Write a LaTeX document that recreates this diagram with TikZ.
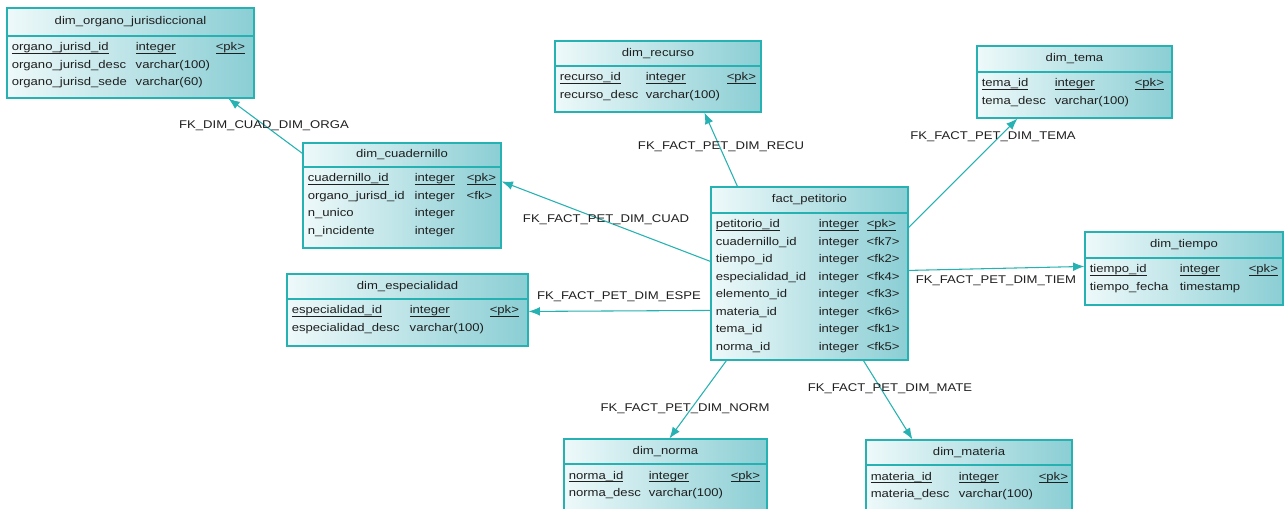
\documentclass[tikz,border=0pt]{standalone}
\usepackage{fontspec}
\newfontfamily\erfont[FakeStretch=1.17]{Liberation Sans}
\usetikzlibrary{fit,calc,arrows.meta}
\newlength\erpx \setlength\erpx{0.75pt}
\definecolor{tborder}{RGB}{38,178,178}
\definecolor{tlight}{RGB}{238,249,250}
\definecolor{tdark}{RGB}{138,206,212}
\newcommand\erul[1]{\leavevmode\setbox0\hbox{#1}\rlap{\rule[-1.9pt]{\wd0}{0.55pt}}\box0}
\newcommand\ertable[9]{%
  \node[tblbox, fit={(#2,#3) (#4,#5)}] (#1) {};
  \draw[tblrule] (#2,#6) -- (#4,#6);
  \node[tbltitle] (#1-t) at ({(#2+#4)/2},{(#3+#6)/2}) {#7};
  \node[tblrows, anchor=base west] (#1-r) at ({#2+4.5},{#6+15}) {\setlength\tabcolsep{0pt}\begin{tabular}[t]{#8}#9\end{tabular}};
}
\tikzset{
  erfnt/.style={font=\erfont\fontsize{8.4}{13.1}\selectfont, text=black!88},
  tblbox/.style={draw=tborder, line width=0.85pt, inner sep=0pt, left color=tlight, right color=tdark},
  tblrule/.style={draw=tborder, line width=0.85pt},
  tbltitle/.style={erfnt, inner sep=0pt},
  tblrows/.style={erfnt, inner sep=0pt},
  fklabel/.style={erfnt, inner sep=0pt},
  fk/.style={draw=tborder, line width=0.8pt, -{Latex[length=8.5pt,width=6.5pt]}},
}
\begin{document}
\begin{tikzpicture}[x=0.75pt,y=-0.75pt]
\useasboundingbox (0,0) rectangle (1284,509);
\fill[white] (0,0) rectangle (1284,509);

\ertable{org}{7}{8}{254}{98}{36}{dim\_organo\_jurisdiccional}{p{124\erpx}p{80\erpx}l}{%
 \erul{organo\_jurisd\_id} & \erul{integer} & \erul{<pk>}\\
 organo\_jurisd\_desc & varchar(100) & \\
 organo\_jurisd\_sede & varchar(60) & }

\ertable{cuad}{303}{143}{501}{248}{167}{dim\_cuadernillo}{p{107\erpx}p{52\erpx}l}{%
 \erul{cuadernillo\_id} & \erul{integer} & \erul{<pk>}\\
 organo\_jurisd\_id & integer & <fk>\\
 n\_unico & integer & \\
 n\_incidente & integer & }

\ertable{espe}{287}{274}{528}{346}{299}{dim\_especialidad}{p{118\erpx}p{80\erpx}l}{%
 \erul{especialidad\_id} & \erul{integer} & \erul{<pk>}\\
 especialidad\_desc & varchar(100) & }

\ertable{fact}{711}{187}{908}{360}{213}{fact\_petitorio}{p{103\erpx}p{48\erpx}l}{%
 \erul{petitorio\_id} & \erul{integer} & \erul{<pk>}\\
 cuadernillo\_id & integer & <fk7>\\
 tiempo\_id & integer & <fk2>\\
 especialidad\_id & integer & <fk4>\\
 elemento\_id & integer & <fk3>\\
 materia\_id & integer & <fk6>\\
 tema\_id & integer & <fk1>\\
 norma\_id & integer & <fk5>}

\ertable{rec}{555}{41}{761}{112}{66}{dim\_recurso}{p{86\erpx}p{81\erpx}l}{%
 \erul{recurso\_id} & \erul{integer} & \erul{<pk>}\\
 recurso\_desc & varchar(100) & }

\ertable{tema}{977}{46}{1172}{118}{72}{dim\_tema}{p{73\erpx}p{80\erpx}l}{%
 \erul{tema\_id} & \erul{integer} & \erul{<pk>}\\
 tema\_desc & varchar(100) & }

\ertable{tiem}{1085}{232}{1283}{305}{258}{dim\_tiempo}{p{90\erpx}p{69\erpx}l}{%
 \erul{tiempo\_id} & \erul{integer} & \erul{<pk>}\\
 tiempo\_fecha & timestamp & }

\ertable{norm}{564}{439}{767}{516}{464}{dim\_norma}{p{80\erpx}p{82\erpx}l}{%
 \erul{norma\_id} & \erul{integer} & \erul{<pk>}\\
 norma\_desc & varchar(100) & }

\ertable{mat}{866}{440}{1072}{516}{465}{dim\_materia}{p{88\erpx}p{80\erpx}l}{%
 \erul{materia\_id} & \erul{integer} & \erul{<pk>}\\
 materia\_desc & varchar(100) & }

% connectors
\draw[fk] ($(cuad.north west)+(0,11)$) -- ($(org.south west)+(222,0)$);
\draw[fk] ($(fact.north west)+(0,75)$) -- ($(cuad.north east)+(0,39)$);
\draw[fk] ($(fact.north west)+(0,124)$) -- ($(espe.north east)+(0,38)$);
\draw[fk] ($(fact.north west)+(27,0)$) -- ($(rec.south west)+(150,0)$);
\draw[fk] ($(fact.north east)+(0,41)$) -- ($(tema.south west)+(41,0)$);
\draw[fk] ($(fact.north east)+(0,84)$) -- ($(tiem.north west)+(0,35)$);
\draw[fk] ($(fact.south west)+(16,0)$) -- ($(norm.north west)+(106,0)$);
\draw[fk] ($(fact.south west)+(153,0)$) -- ($(mat.north west)+(47,0)$);

% labels
\node[fklabel] (l-orga) at (264,126) {FK\_DIM\_CUAD\_DIM\_ORGA};
\node[fklabel] (l-cuad) at (606,220) {FK\_FACT\_PET\_DIM\_CUAD};
\node[fklabel] (l-espe) at (619,297) {FK\_FACT\_PET\_DIM\_ESPE};
\node[fklabel] (l-recu) at (721,147) {FK\_FACT\_PET\_DIM\_RECU};
\node[fklabel] (l-tema) at (993,137) {FK\_FACT\_PET\_DIM\_TEMA};
\node[fklabel] (l-tiem) at (996,281) {FK\_FACT\_PET\_DIM\_TIEM};
\node[fklabel] (l-norm) at (685,409) {FK\_FACT\_PET\_DIM\_NORM};
\node[fklabel] (l-mate) at (890,389) {FK\_FACT\_PET\_DIM\_MATE};
\end{tikzpicture}
\end{document}
